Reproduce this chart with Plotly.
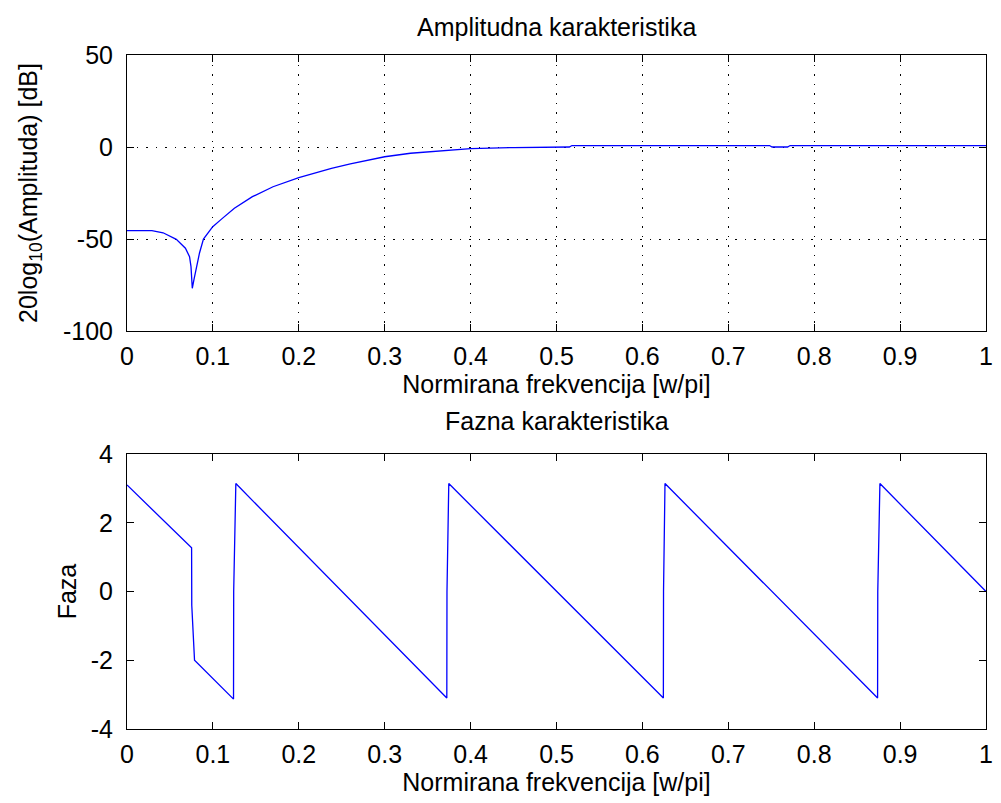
import plotly.graph_objects as go

# Amplitude response (normalized frequency w/pi, dB)
amp_f = [0.0, 0.029, 0.042, 0.0574, 0.068, 0.0728, 0.0745, 0.076, 0.078, 0.0805,
         0.0844, 0.089, 0.0998, 0.11, 0.125, 0.146, 0.17, 0.2, 0.22, 0.238, 0.26,
         0.28, 0.3, 0.33, 0.35, 0.37, 0.4, 0.45, 0.515, 0.518, 0.748, 0.751,
         0.769, 0.772, 1.0]
amp_db = [-45.5, -45.5, -46.6, -50.2, -55.0, -59.6, -65.0, -76.8, -72.0, -66.8,
          -57.6, -50.0, -43.3, -39.2, -33.3, -27.0, -21.6, -16.7, -13.9, -11.6, -9.2,
          -7.1, -5.3, -3.4, -2.6, -1.8, -0.9, -0.3, 0.0, 0.8, 0.8, 0.0,
          0.0, 0.8, 0.8]

# Phase response (radians)
ph_f = [0.0, 0.0752, 0.0754, 0.0786, 0.124, 0.1242, 0.1267, 0.3723, 0.3725, 0.3746,
        0.6244, 0.6246, 0.6263, 0.8738, 0.874, 0.8765, 1.0]
ph_v = [3.10, 1.27, -0.40, -2.00, -3.13, 0.0, 3.14, -3.10, 0.0, 3.14,
        -3.10, 0.0, 3.14, -3.10, 0.0, 3.14, 0.0]

x_ticks = [0, 0.1, 0.2, 0.3, 0.4, 0.5, 0.6, 0.7, 0.8, 0.9, 1]
x_ticktext = ["0", "0.1", "0.2", "0.3", "0.4", "0.5", "0.6", "0.7", "0.8", "0.9", "1"]
amp_yticks = [-100, -50, 0, 50]
amp_yticktext = ["-100", "-50", "0", "50"]
ph_yticks = [-4, -2, 0, 2, 4]
ph_yticktext = ["-4", "-2", "0", "2", "4"]

FONT = "Liberation Sans, Arial, sans-serif"
FS = 25
BLUE = "#0000ff"

fig = go.Figure()
fig.add_trace(go.Scatter(x=amp_f, y=amp_db, mode="lines",
                         line=dict(color=BLUE, width=1.3),
                         xaxis="x", yaxis="y", showlegend=False))
fig.add_trace(go.Scatter(x=ph_f, y=ph_v, mode="lines",
                         line=dict(color=BLUE, width=1.3),
                         xaxis="x2", yaxis="y2", showlegend=False))

axis_common = dict(showline=True, linecolor="black", linewidth=1, mirror="allticks",
                   ticks="inside", ticklen=7, tickcolor="black", tickwidth=1,
                   zeroline=False, tickfont=dict(family=FONT, size=FS, color="black"))

grid_style = dict(showgrid=True, gridcolor="black", gridwidth=1, griddash="1.5px,8px")

fig.update_layout(
    width=1001, height=803,
    margin=dict(l=127, r=8, t=55, b=74),
    paper_bgcolor="white", plot_bgcolor="white",
    font=dict(family=FONT, size=FS, color="black"),
    xaxis=dict(domain=[0, 1], anchor="y", range=[0, 1], tickvals=x_ticks,
               ticktext=x_ticktext, ticklabelstandoff=3,
               title=dict(text="Normirana frekvencija [w/pi]", standoff=4,
                          font=dict(family=FONT, size=FS)),
               **grid_style, **axis_common),
    yaxis=dict(domain=[0.5905, 1], anchor="x", range=[-100, 50], tickvals=amp_yticks,
               ticktext=amp_yticktext, ticklabelstandoff=8,
               title=dict(text="20log<sub>10</sub>(Amplituda) [dB]", standoff=18,
                          font=dict(family=FONT, size=FS)),
               **grid_style, **axis_common),
    xaxis2=dict(domain=[0, 1], anchor="y2", range=[0, 1], tickvals=x_ticks,
                ticktext=x_ticktext, ticklabelstandoff=3, showgrid=False,
                title=dict(text="Normirana frekvencija [w/pi]", standoff=4,
                           font=dict(family=FONT, size=FS)),
                **axis_common),
    yaxis2=dict(domain=[0, 0.408], anchor="x2", range=[-4, 4], tickvals=ph_yticks,
                ticktext=ph_yticktext, ticklabelstandoff=8, showgrid=False,
                title=dict(text="Faza", standoff=7, font=dict(family=FONT, size=FS)),
                **axis_common),
    annotations=[
        dict(text="Amplitudna karakteristika", x=0.5, y=1, xref="paper", yref="paper",
             xanchor="center", yanchor="middle", yshift=28, showarrow=False,
             font=dict(family=FONT, size=FS, color="black")),
        dict(text="Fazna karakteristika", x=0.5, y=0.408, xref="paper", yref="paper",
             xanchor="center", yanchor="middle", yshift=33, showarrow=False,
             font=dict(family=FONT, size=FS, color="black")),
    ],
)

fig.write_html("out.html")
